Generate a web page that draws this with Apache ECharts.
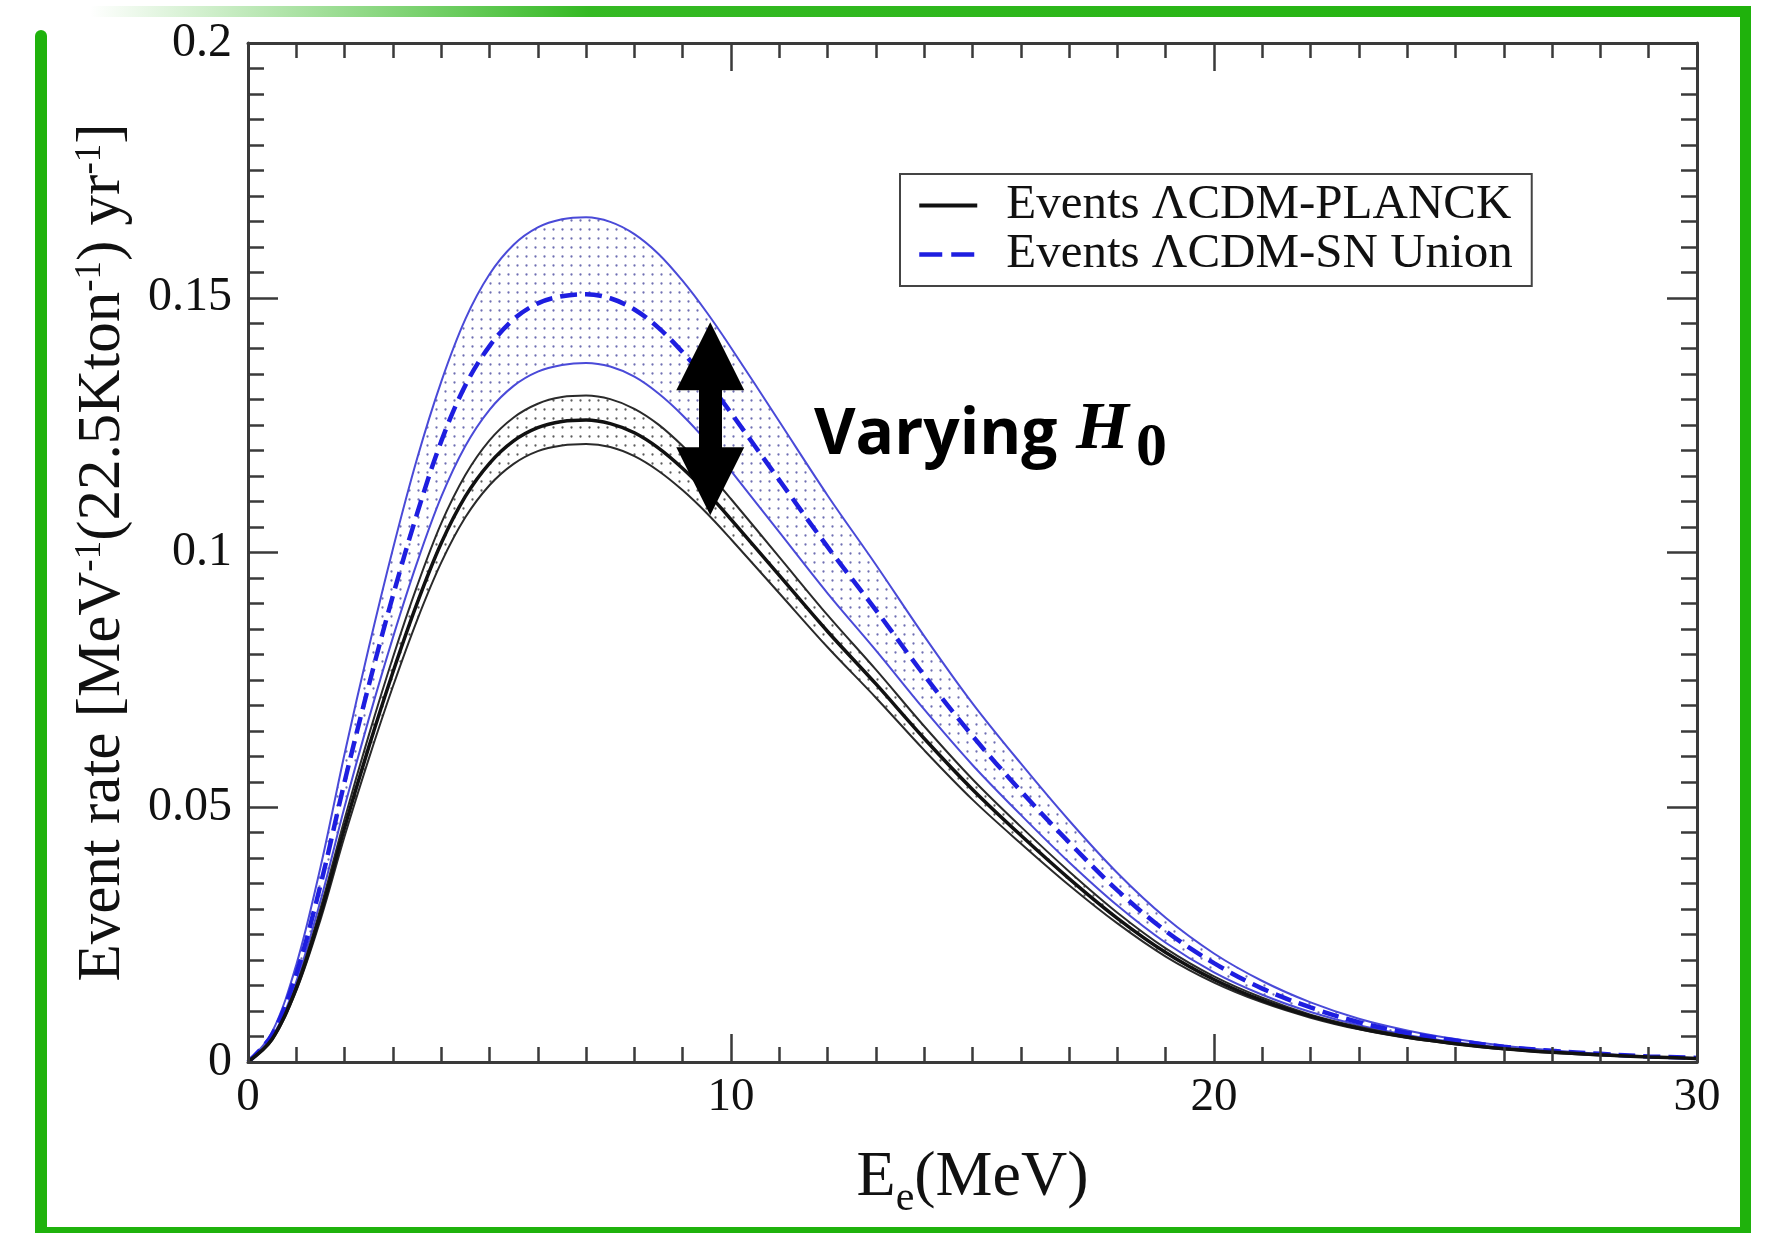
<!DOCTYPE html>
<html><head><meta charset="utf-8">
<script src="https://cdn.jsdelivr.net/npm/echarts@6/dist/echarts.min.js"></script>
<style>html,body{margin:0;padding:0;background:#fff}#c{width:1768px;height:1233px}</style>
</head><body><div id="c"></div>
<script>
// ---- data ----
const energies = [0,0.5,1,1.5,2,2.5,3,3.5,4,4.5,5,5.5,6,6.5,7,7.5,8,8.5,9,9.5,10,
  11,12,13,14,15,16,17,18,19,20,21,22,23,24,25,26,27,28,29,30];
const planckCentral = [0,0.0045,0.0145,0.0290,0.0460,0.0618,0.0765,0.0900,0.1018,0.1110,0.1175,0.1219,0.1245,0.1257,0.1260,0.1253,0.1235,0.1205,0.1165,0.1118,0.1065,
  0.0955,0.0845,0.0742,0.0635,0.0535,0.0445,0.0360,0.0282,0.0215,0.0162,0.0121,0.0090,0.0066,0.0049,0.0036,0.0026,0.0019,0.0014,0.0010,0.0007];
const planckUpper = [0,0.0047,0.0150,0.0301,0.0477,0.0641,0.0794,0.0934,0.1057,0.1152,0.1220,0.1265,0.1292,0.1305,0.1308,0.1301,0.1282,0.1251,0.1209,0.1160,0.1105,
  0.0991,0.0877,0.0770,0.0659,0.0555,0.0462,0.0374,0.0293,0.0223,0.0168,0.0126,0.0093,0.0069,0.0051,0.0037,0.0027,0.0020,0.0014,0.0010,0.0007];
const planckLower = [0,0.0043,0.0140,0.0279,0.0443,0.0595,0.0737,0.0867,0.0980,0.1069,0.1132,0.1174,0.1199,0.1210,0.1213,0.1207,0.1189,0.1160,0.1122,0.1077,0.1026,
  0.0920,0.0814,0.0715,0.0612,0.0515,0.0429,0.0347,0.0272,0.0207,0.0156,0.0117,0.0087,0.0064,0.0047,0.0035,0.0025,0.0018,0.0013,0.0010,0.0007];
const unionCentral = [0,0.0054,0.0173,0.0347,0.0550,0.0739,0.0915,0.1076,0.1218,0.1328,0.1405,0.1458,0.1489,0.1503,0.1507,0.1499,0.1477,0.1441,0.1393,0.1337,0.1274,
  0.1142,0.1011,0.0887,0.0759,0.0640,0.0532,0.0431,0.0337,0.0257,0.0194,0.0144,0.0107,0.0078,0.0057,0.0042,0.0030,0.0022,0.0016,0.0011,0.0008];
const unionUpper = [0,0.0059,0.0191,0.0382,0.0605,0.0813,0.1007,0.1184,0.1335,0.1458,0.1546,0.1604,0.1638,0.1654,0.1658,0.1649,0.1625,0.1586,0.1533,0.1471,0.1402,
  0.1257,0.1112,0.0976,0.0836,0.0704,0.0586,0.0474,0.0371,0.0283,0.0213,0.0159,0.0117,0.0085,0.0062,0.0045,0.0032,0.0023,0.0016,0.0011,0.0008];
const unionLower = [0,0.0049,0.0158,0.0316,0.0501,0.0673,0.0833,0.0980,0.1109,0.1209,0.1280,0.1327,0.1355,0.1368,0.1372,0.1365,0.1345,0.1312,0.1269,0.1218,0.1160,
  0.1040,0.0920,0.0808,0.0692,0.0583,0.0485,0.0392,0.0307,0.0234,0.0176,0.0132,0.0098,0.0072,0.0053,0.0039,0.0028,0.0020,0.0015,0.0011,0.0007];
const legendNames = ['Events \u039BCDM-PLANCK', 'Events \u039BCDM-SN Union'];
const xRange = [0, 30], xStep = 10;
const yRange = [0, 0.2], yStep = 0.05;
const arrowAt = 9.57, arrowFrom = 0.1385, arrowTo = 0.1140;   // "Varying H0" arrow, in data units

// ---- helpers ----
const pairs = arr => energies.map((e, i) => [e, arr[i]]);
function dots(color) {
  const c = document.createElement('canvas'); c.width = 9; c.height = 9;
  const g = c.getContext('2d'); g.fillStyle = '#ffffff'; g.fillRect(0, 0, 9, 9);
  g.fillStyle = color;
  g.beginPath(); g.arc(4.5, 4.5, 1.15, 0, Math.PI * 2); g.fill();
  return { image: c, repeat: 'repeat' };
}
const SERIF = 'Liberation Serif';
const AX = '#3a3a3a';
const SM = 0.35;
const DASH = [17, 8];
function area(arr, fill) {
  return { type: 'line', data: pairs(arr), symbol: 'none', smooth: SM, silent: true, z: 1,
    lineStyle: { width: 0, opacity: 0 }, areaStyle: { color: fill, opacity: 1, origin: 'start' } };
}
function line(name, arr, color, width, type, z) {
  return { name, type: 'line', data: pairs(arr), symbol: 'none', smooth: SM, silent: true, z: z || 3,
    lineStyle: { color, width, type: type || 'solid' }, itemStyle: { color } };
}
function axisCommon(pos, showLabel, interval, range, tickLen, minorLen) {
  return {
    type: 'value', position: pos, min: range[0], max: range[1], interval, z: 10,
    nameMoveOverlap: false,
    axisLine: { show: true, onZero: false, lineStyle: { color: AX, width: 3 } },
    axisTick: { show: true, inside: true, length: tickLen, lineStyle: { color: AX, width: 2.5 } },
    minorTick: { show: true, splitNumber: 10, length: minorLen, lineStyle: { color: AX, width: 2.5 } },
    splitLine: { show: false }, minorSplitLine: { show: false },
    axisLabel: { show: showLabel, fontFamily: SERIF, fontSize: 47, color: '#111' }
  };
}

const chart = echarts.init(document.getElementById('c'), null, { renderer: 'canvas' });
const xb = axisCommon('bottom', true, xStep, xRange, 28, 15);
xb.axisLabel.margin = 12;
xb.name = '{b|E}{u|e}{b|(MeV)}';
xb.nameLocation = 'middle'; xb.nameGap = 84;
xb.nameTextStyle = { fontFamily: SERIF, color: '#111', rich: {
  b: { fontFamily: SERIF, fontSize: 64, lineHeight: 64, verticalAlign: 'top', color: '#111' },
  u: { fontFamily: SERIF, fontSize: 42, lineHeight: 40, padding: [32, 0, 0, 0], verticalAlign: 'top', color: '#111' } } };
const xt = axisCommon('top', false, xStep, xRange, 28, 15);
const yl = axisCommon('left', true, yStep, yRange, 30, 16);
yl.axisLabel.fontSize = 48; yl.axisLabel.margin = 16;
yl.name = '{b|Event rate [MeV}{s|-1}{b|(22.5Kton}{s|-1}{b|) yr}{s|-1}{b|]}';
yl.nameLocation = 'middle'; yl.nameGap = 115; yl.nameRotate = 90;
yl.nameTextStyle = { fontFamily: SERIF, color: '#111', rich: {
  b: { fontFamily: SERIF, fontSize: 61, lineHeight: 61, verticalAlign: 'bottom', color: '#111' },
  s: { fontFamily: SERIF, fontSize: 37, lineHeight: 37, padding: [0, 0, 40, 0], verticalAlign: 'top', color: '#111' } } };
const yr = axisCommon('right', false, yStep, yRange, 30, 16);

const GREEN = '#1fb20c';
chart.setOption({
  animation: false,
  backgroundColor: '#fff',
  grid: { left: 248, right: 71, top: 43, bottom: 171, containLabel: false },
  xAxis: [xb, xt],
  yAxis: [yl, yr],
  legend: {
    orient: 'vertical', left: 900, top: 174,
    data: [
      { name: legendNames[0], lineStyle: { width: 4, color: '#111', type: 'solid' } },
      { name: legendNames[1], lineStyle: { width: 4.5, color: '#1e1ee0', type: [23, 9] } }
    ],
    itemWidth: 58, itemHeight: 20, itemGap: 0, padding: [7, 19, 7, 17],
    borderColor: '#444', borderWidth: 2, backgroundColor: '#fff', selectedMode: false,
    itemStyle: { opacity: 0 },
    textStyle: { fontFamily: SERIF, fontSize: 49, lineHeight: 49, color: '#111', padding: [0, 0, 0, 24] }
  },
  series: [
    area(unionUpper, dots('rgba(95,95,170,0.9)')),
    area(unionLower, '#ffffff'),
    area(planckUpper, dots('rgba(75,75,75,0.9)')),
    area(planckLower, '#ffffff'),
    line('uUpper', unionUpper, '#4a4ad8', 2),
    line('uLower', unionLower, '#4a4ad8', 2),
    line('pUpper', planckUpper, '#2a2a2a', 2),
    line('pLower', planckLower, '#2a2a2a', 2),
    Object.assign(line(legendNames[1], unionCentral, '#1e1ee0', 4.5, DASH, 4), {
      markLine: {
        silent: true, animation: false, symbol: ['triangle', 'triangle'], symbolSize: 68,
        label: { show: false }, emphasis: { disabled: true },
        lineStyle: { color: '#000', width: 23, type: 'solid' },
        itemStyle: { color: '#000' },
        data: [[{ coord: [arrowAt, arrowFrom] }, { coord: [arrowAt, arrowTo] }]]
      }
    }),
    line(legendNames[0], planckCentral, '#111', 3.5, 'solid', 4)
  ],
  graphic: [
    { type: 'rect', shape: { x: 35, y: 30, width: 12, height: 1203, r: [6, 6, 0, 0] }, style: { fill: GREEN }, silent: true },
    { type: 'rect', shape: { x: 35, y: 1227, width: 1716, height: 6 }, style: { fill: GREEN }, silent: true },
    { type: 'rect', shape: { x: 1740, y: 6, width: 11, height: 1227 }, style: { fill: GREEN }, silent: true },
    { type: 'rect', shape: { x: 90, y: 6, width: 1661, height: 11 }, silent: true,
      style: { fill: new echarts.graphic.LinearGradient(0, 0, 1, 0, [
        { offset: 0, color: 'rgba(31,178,12,0)' }, { offset: 0.3, color: 'rgba(31,178,12,0.9)' }, { offset: 1, color: GREEN }]) } },
    { type: 'text', left: 814, top: 404, silent: true, z: 100,
      style: { text: 'Varying', font: '700 64px "Open Sans"', fill: '#000' } },
    { type: 'text', left: 1076, top: 396, silent: true, z: 100,
      style: { text: 'H', font: 'italic 700 68px "Liberation Serif"', fill: '#000' } },
    { type: 'text', left: 1136, top: 418, silent: true, z: 100,
      style: { text: '0', font: '700 62px "Liberation Serif"', fill: '#000' } }
  ]
});
</script>
</body></html>
